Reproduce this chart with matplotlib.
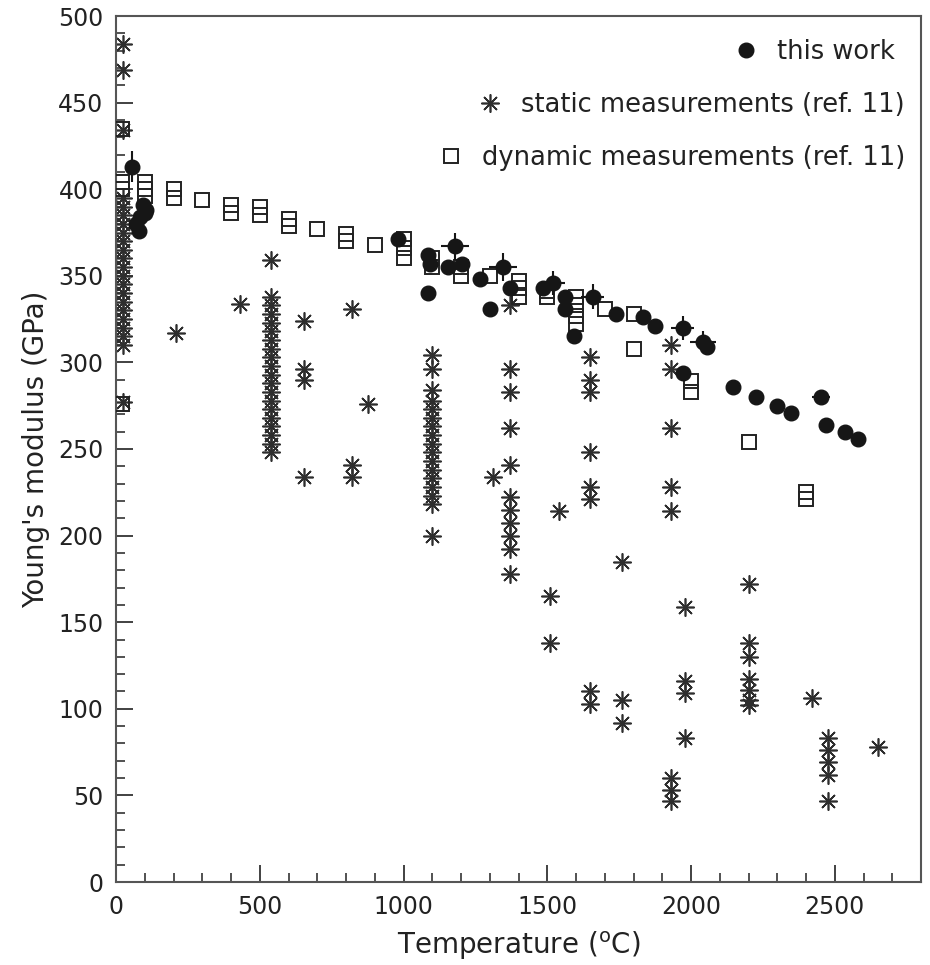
import matplotlib
matplotlib.use("Agg")
import matplotlib.pyplot as plt
from matplotlib.ticker import MultipleLocator
from matplotlib.lines import Line2D

# ---------------- data ----------------
# static measurements (ref. 11): temperature columns and the values in each
static_temps = [25, 210, 430, 540, 655, 820, 875, 1100, 1310, 1370,
                1510, 1540, 1650, 1760, 1930, 1980, 2200, 2420, 2475, 2650]
static_values = [
    [484, 469, 434, 395, 390, 385, 380, 375, 370, 365, 360, 355, 350, 345,
     340, 335, 330, 325, 320, 315, 310, 277],
    [317],
    [334],
    [359, 338, 333, 328, 323, 318, 313, 308, 303, 298, 293, 288, 283, 278,
     273, 268, 263, 258, 253, 248],
    [324, 296, 290, 234],
    [331, 241, 234],
    [276],
    [304, 296, 284, 278, 273, 268, 263, 258, 253, 248, 243, 238, 233, 228,
     223, 218, 200],
    [234],
    [333, 296, 283, 262, 241, 222, 215, 207, 200, 192, 178],
    [165, 138],
    [214],
    [303, 290, 283, 248, 228, 221, 110, 103],
    [185, 105, 92],
    [310, 296, 262, 228, 214, 60, 53, 47],
    [159, 116, 109, 83],
    [172, 138, 130, 117, 111, 105, 102],
    [106],
    [83, 76, 69, 62, 47],
    [78],
]

# dynamic measurements (ref. 11)
dynamic_temps = [20, 20, 20, 20, 100, 200, 300, 400, 500, 600, 700, 800,
                 900, 1000, 1100, 1200, 1300, 1400, 1500, 1600, 1700, 1800,
                 2000, 2200, 2400]
dynamic_values = [
    [435], [404], [400], [276],
    [404, 400, 396],
    [400, 395],
    [394],
    [391, 386],
    [390, 385],
    [383, 379],
    [377],
    [374, 370],
    [368],
    [371, 366, 360],
    [360, 355],
    [355, 350],
    [350],
    [347, 343, 338],
    [341, 338],
    [338, 333, 327, 322],
    [331],
    [328, 308],
    [289, 283],
    [254],
    [225, 221],
]

# this work
work_T = [55, 70, 80, 85, 95, 105, 100,
          981, 1085, 1092, 1085, 1155, 1179, 1203, 1266, 1301, 1346, 1370,
          1485, 1520, 1562, 1562, 1593, 1659, 1740, 1833, 1875, 1972, 2042,
          2056, 1972, 2146, 2226, 2299, 2348, 2452, 2470, 2536, 2581]
work_E = [413, 380, 376, 384, 391, 388, 386,
          371, 362, 357, 340, 355, 367, 357, 348, 331, 355, 343,
          343, 346, 338, 331, 315, 338, 328, 326, 321, 320, 312,
          309, 294, 286, 280, 275, 271, 280, 264, 260, 256]
work_Terr = [25, 0, 0, 0, 0, 0, 0,
             0, 0, 0, 0, 0, 50, 0, 0, 0, 50, 0,
             0, 40, 0, 0, 0, 40, 0, 0, 0, 40, 45,
             0, 0, 0, 0, 0, 0, 30, 0, 0, 0]
work_Eerr = [9, 0, 0, 0, 0, 0, 0,
             0, 0, 0, 0, 0, 8, 0, 0, 0, 8, 0,
             0, 7, 0, 0, 0, 7, 0, 0, 0, 7, 6,
             0, 0, 0, 0, 0, 0, 3, 0, 0, 0]

# ---------------- figure ----------------
plt.rcParams['font.family'] = ['DejaVu Sans']
fig = plt.figure(figsize=(9.3, 9.65), dpi=100)
ax = fig.add_axes([116 / 930, 1 - 882 / 965, (921 - 116) / 930, (882 - 16) / 965])

ast_marker = (8, 2, 0)
ink = '#161616'

st_x, st_y = [], []
for t, vals in zip(static_temps, static_values):
    for v in vals:
        st_x.append(t)
        st_y.append(v)
ax.plot(st_x, st_y, linestyle='none', marker=ast_marker, markersize=13,
        markeredgewidth=1.2, color='#2e2e2e', zorder=2)

dy_x, dy_y = [], []
for t, vals in zip(dynamic_temps, dynamic_values):
    for v in vals:
        dy_x.append(t)
        dy_y.append(v)
ax.plot(dy_x, dy_y, linestyle='none', marker='s', markersize=10.5,
        markerfacecolor='none', markeredgecolor='#222222',
        markeredgewidth=1.4, zorder=3)

ax.errorbar(work_T, work_E, xerr=work_Terr, yerr=work_Eerr, fmt='o',
            markersize=10.5, color=ink, ecolor=ink, elinewidth=1.5,
            capsize=0, zorder=4)

ax.set_xlim(0, 2800)
ax.set_ylim(0, 500)

ax.xaxis.set_major_locator(MultipleLocator(500))
ax.xaxis.set_minor_locator(MultipleLocator(100))
ax.yaxis.set_major_locator(MultipleLocator(50))
ax.yaxis.set_minor_locator(MultipleLocator(10))
ax.tick_params(axis='both', which='both', direction='in', top=False,
               right=False, colors='#333333', labelcolor='#222222')
ax.tick_params(axis='both', which='major', length=12, width=1.3,
               labelsize=17, pad=9)
ax.tick_params(axis='both', which='minor', length=6.5, width=1.2)
for sp in ax.spines.values():
    sp.set_linewidth(1.5)
    sp.set_color('#555555')

ax.set_xlabel('Temperature ($^{\\rm o}$C)', fontsize=20, color='#222222',
              labelpad=8)
ax.set_ylabel("Young's modulus (GPa)", fontsize=20, color='#222222',
              labelpad=6)

# legend: three right-aligned single entries
h_work = Line2D([], [], linestyle='none', marker='o', markersize=10.5, color=ink)
h_stat = Line2D([], [], linestyle='none', marker=ast_marker, markersize=13,
                markeredgewidth=1.2, color='#2e2e2e')
h_dyn = Line2D([], [], linestyle='none', marker='s', markersize=10.5,
               markerfacecolor='none', markeredgecolor='#222222',
               markeredgewidth=1.4)
entries = [(h_work, 'this work', 0.962, 1 - 52 / 965),
           (h_stat, 'static measurements (ref. 11)', 0.973, 1 - 105 / 965),
           (h_dyn, 'dynamic measurements (ref. 11)', 0.973, 1 - 158 / 965)]
for h, lab, xr, yc in entries:
    leg = fig.legend([h], [lab], loc='center right', bbox_to_anchor=(xr, yc),
                     bbox_transform=fig.transFigure, frameon=False,
                     fontsize=18.5, handlelength=1.0, handletextpad=0.7,
                     borderpad=0, borderaxespad=0)
    for t in leg.get_texts():
        t.set_color('#222222')

fig.savefig('out.png', dpi=100)
